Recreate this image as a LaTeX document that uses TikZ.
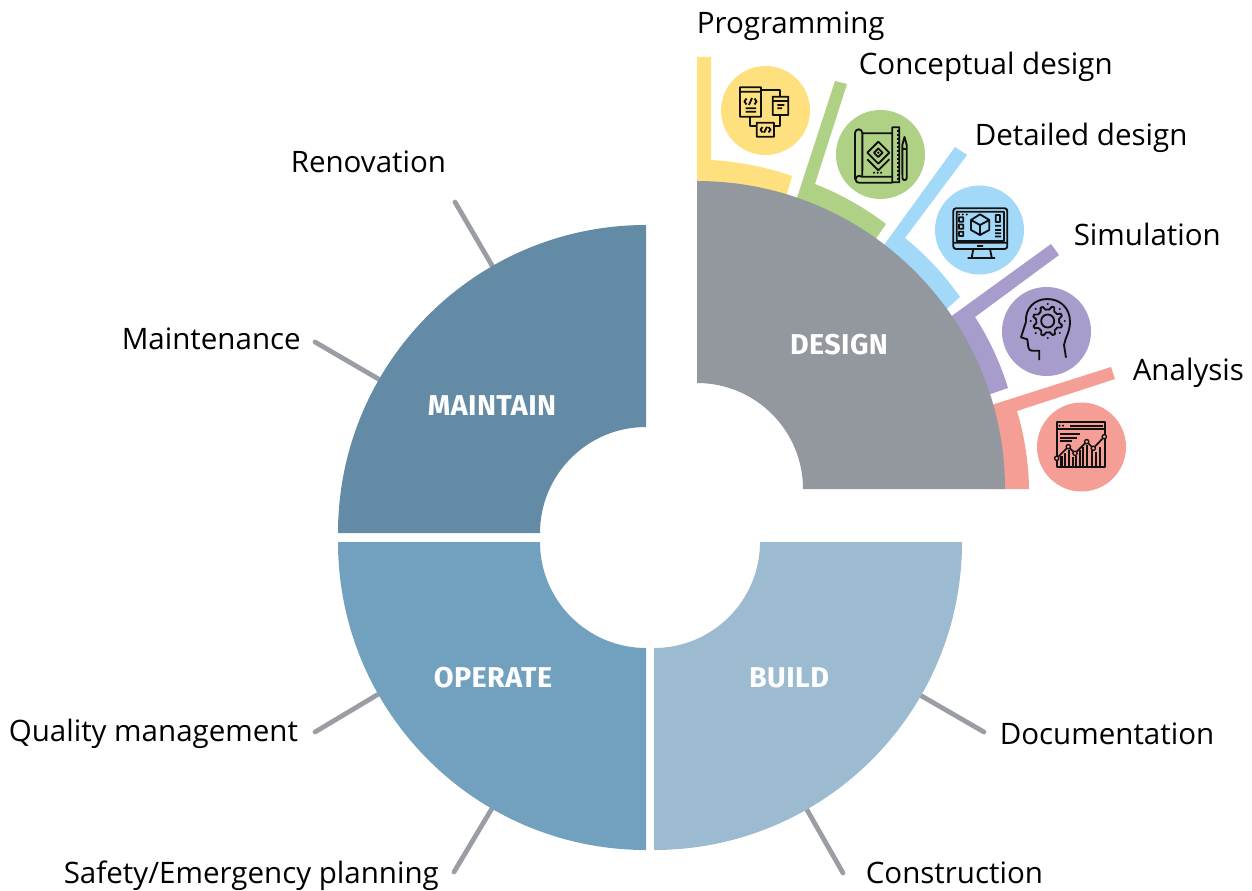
\documentclass[tikz,border=0pt]{standalone}
\usepackage{fontspec}
\setmainfont{Open Sans}
\newfontfamily\headfont[FakeStretch=1.0,LetterSpace=1.5]{Fira Sans}
\definecolor{cYellow}{HTML}{FFE07F}
\definecolor{cGreen}{HTML}{AED185}
\definecolor{cBlue}{HTML}{A2D8F8}
\definecolor{cPurple}{HTML}{A79CCC}
\definecolor{cSalmon}{HTML}{F49E96}
\definecolor{cGrey}{HTML}{93989F}
\definecolor{cMaintain}{HTML}{648BA5}
\definecolor{cOperate}{HTML}{71A1BF}
\definecolor{cBuild}{HTML}{9CBBD1}
\definecolor{cTick}{HTML}{9A9DA3}
\definecolor{cInk}{HTML}{111111}
\newcommand{\quadring}[3]{%
  \begin{scope}[shift={(#1)}]
    \fill[#3] (#2:231pt) arc[start angle=#2,delta angle=90,radius=231pt]
      -- ({#2+90}:79.5pt) arc[start angle={#2+90},delta angle=-90,radius=79.5pt] -- cycle;
  \end{scope}}
\tikzset{
  lab/.style={anchor=base west,inner sep=0pt,font=\fontsize{22.15pt}{24pt}\selectfont,text=black},
  head/.style={anchor=center,inner sep=0pt,text=white,font=\headfont\bfseries\fontsize{21.5pt}{24pt}\selectfont},
  tick/.style={draw=cTick,line width=3.6pt,line cap=round},
  ic/.style={draw=cInk,line width=1.4pt,line join=round,fill=none},
  ith/.style={draw=cInk,line width=1.7pt},
  disc/.style={circle,minimum size=66.75pt,inner sep=0pt,draw=none}
}
\begin{document}
\begin{tikzpicture}[x=0.75pt,y=-0.75pt]
\useasboundingbox (0,0) rectangle (1252,891);
% tick ends
\coordinate (tRen) at (455,202); \coordinate (tRenI) at (497,274);
\coordinate (tMai) at (315,342); \coordinate (tMaiI) at (387,384);
\coordinate (tQua) at (315,732); \coordinate (tQuaI) at (387,689);
\coordinate (tSaf) at (454,872); \coordinate (tSafI) at (497,800);
\coordinate (tDoc) at (984,732); \coordinate (tDocI) at (913,691);
\coordinate (tCon) at (843,873); \coordinate (tConI) at (802,801);
\foreach \a/\b in {tRen/tRenI,tMai/tMaiI,tQua/tQuaI,tSaf/tSafI,tDoc/tDocI,tCon/tConI}
  \draw[tick] (\a) -- (\b);
% rings
\quadring{646,533}{90}{cMaintain}
\quadring{646,542}{180}{cOperate}
\quadring{654,542}{270}{cBuild}
% coloured bands
\fill[cYellow] (697,57) -- (711,57) -- (711,160) to[bend left=8,looseness=0.85] (792,176) -- (783,208) -- (697,208) -- cycle;
\fill[cGreen] (835,81) -- (847,84) -- (815,184) to[bend left=8,looseness=0.85] (886,224) -- (870,247) -- (791,216) -- cycle;
\fill[cBlue] (955,147) -- (967,155) -- (905,238) to[bend left=8,looseness=0.85] (960,297) -- (940,315) -- (876,256) -- cycle;
\fill[cPurple] (1051,244) -- (1059,255) -- (975,317) to[bend left=8,looseness=0.85] (1008,388) -- (982,397) -- (942,323) -- cycle;
\fill[cSalmon] (1111,367) -- (1115,379) -- (1017,411) to[bend left=8,looseness=0.85] (1029,489) -- (990,489) -- (982,408) -- cycle;
\quadring{697,489}{0}{cGrey}
% discs
\node[disc,fill=cYellow] (dProg) at (765.5,110.5) {};
\node[disc,fill=cGreen] (dConc) at (880.5,154.5) {};
\node[disc,fill=cBlue] (dDet) at (979.5,230) {};
\node[disc,fill=cPurple] (dSim) at (1046.5,331.5) {};
\node[disc,fill=cSalmon] (dAna) at (1081.5,447) {};
% icon 1: programming
\draw[ic] (740,87.3) rectangle (761,116.7) (740,91.7) -- (761,91.7)
  (761,90) -- (780,90) -- (780,96.7)
  (772.7,96.7) rectangle (788.3,115) (772.7,101) -- (788.3,101)
  (777.3,105) -- (784.3,105) (777.3,108.3) -- (782,108.3)
  (750,116.7) -- (750,126) -- (756.7,126)
  (756.7,122.7) rectangle (774,136.7)
  (774,126) -- (780,126) -- (780,115)
  (745.5,108.3) -- (756,108.3) (745.5,111.7) -- (756,111.7)
  (746.5,98.5) -- (744.5,101.5) -- (746.5,104.5) (754.5,98.5) -- (756.5,101.5) -- (754.5,104.5) (752,98) -- (749,105)
  (762.5,127) -- (760.5,129.7) -- (762.5,132.4) (768.5,127) -- (770.5,129.7) -- (768.5,132.4) (767,126.7) -- (764,132.7);
% icon 2: concept
\draw[ic] (855,179.5) -- (855,133) arc[start angle=180,end angle=0,radius=2.75pt] -- (862.3,175.5)
  (862.3,133.3) -- (892.3,133.3)
  (859,182.8) -- (892.3,182.8) (862.3,176.7) -- (892.3,176.7)
  (859,182.8) arc[start angle=270,end angle=90,radius=2.6pt] -- (862.3,176.7)
  (892.3,127.3) rectangle (899.3,182.3)
  (902.3,145) -- (904.5,137) -- (906.7,145) -- (906.7,178) arc[start angle=0,end angle=-180,radius=1.6pt] -- cycle
  (902.3,149) -- (906.7,149)
  (878.3,141.7) -- (889.3,152.7) -- (878.3,163.7) -- (867.3,152.7) -- cycle
  (867.3,159.3) -- (878.3,170.3) -- (889.3,159.3)
  (878.3,148.4) -- (882.6,152.7) -- (878.3,157) -- (874,152.7) -- cycle;
\fill[cInk] (878.3,152.7) circle[radius=1pt];
\foreach \x in {874,877.7,881} \fill[cInk] (\x,172.7) circle[radius=0.9pt];
\foreach \y in {131,135,...,179} \draw[ic,line width=0.8pt] (896.5,\y) -- (899,\y);
% icon 3: detailed design
\draw[ic,rounded corners=2pt] (953.3,208.3) rectangle (1007.3,249);
\draw[ic] (953.3,242.7) -- (1007.3,242.7) (956.7,211.7) rectangle (1004,241)
  (977,246) -- (983,246)
  (973.3,249) -- (971.7,257.5) (990,249) -- (991.7,257.5) (967.7,258) -- (995,258)
  (980,214.3) -- (989.3,220) -- (989.3,230) -- (980,235) -- (971,230) -- (971,220) -- cycle
  (971,220) -- (980,225) -- (989.3,220) (980,225) -- (980,235)
  (959,217.3) rectangle (963.3,221.7) (959,224.5) rectangle (963.3,228.8) (959,231.7) rectangle (963.3,236)
  (995.7,215) rectangle (1000,222)
  (995,225.7) -- (1001,225.7) (995,230) -- (1001,230) (995,233.3) -- (1001,233.3) (995,236.5) -- (1001,236.5);
\foreach \x in {959,962.7,966.7} \fill[cInk] (\x,214.5) circle[radius=0.9pt];
% icon 4: simulation
\draw[ic] (1066,357.7) -- (1064,345) .. controls (1065,338) and (1070,332) .. (1070,321.7)
  .. controls (1070,308) and (1060,299) .. (1047.3,299)
  .. controls (1034,299) and (1025,309) .. (1026,321.7)
  -- (1021,337.3) -- (1027.3,339.3) -- (1028.3,347) .. controls (1028.5,349.5) and (1030,350.7) .. (1032,350.7)
  -- (1039.3,350.7) -- (1039.3,360);
\draw[ic] (1047.7,321) circle[radius=4.9pt];
\draw[ic] plot[samples at={0,...,40},variable=\t] ({1047.7+(mod(\t,5)<2?15:11.5)*cos(9*\t-6+22.5)},{321+(mod(\t,5)<2?15:11.5)*sin(9*\t-6+22.5)}) -- cycle;
\foreach \a in {0,45,...,315} \fill[cInk] ({1047.7+17*cos(\a)},{321+17*sin(\a)}) circle[radius=0.9pt];
% icon 5: analysis
\draw[ic] (1056.7,421.7) rectangle (1105,466.7);
\draw[ith] (1056.7,429.3) -- (1105,429.3) (1070,425.7) -- (1103,425.7)
  (1060,434.3) -- (1080,434.3) (1060,437.7) -- (1077,437.7) (1060,441) -- (1072,441);
\foreach \x in {1059.5,1063} \fill[cInk] (\x,425.7) circle[radius=0.9pt];
\foreach \x/\t in {1061.5/456,1065/453,1069/450,1073.3/457,1076/456,1080/450,1083.3/447,1087.3/445,1091.7/450,1095.7/451.7,1100/447}
  \draw[ith] (\x,\t) -- (\x,466.7);
\draw[draw=cInk,line width=1.3pt] (1056.7,458.3) -- (1068.3,446.7) -- (1075,453.3) -- (1086.7,441.7) -- (1093.3,448.3) -- (1104.3,436.7);
\foreach \p in {{1056.7,458.3},{1068.3,446.7},{1075,453.3},{1086.7,441.7},{1093.3,448.3},{1104.3,436.7}}
  \draw[draw=cInk,line width=1pt,fill=cSalmon] (\p) circle[radius=1.6pt];
% sector titles
\node[head] (hDesign) at (839,344.5) {DESIGN};
\node[head] (hMaintain) at (492,405.5) {MAINTAIN};
\node[head] (hOperate) at (493,677.5) {OPERATE};
\node[head] (hBuild) at (789,677.5) {BUILD};
% labels
\node[lab] (lProg) at (696.5,33.5) {Programming};
\node[lab] (lConc) at (858.5,74.5) {Conceptual design};
\node[lab] (lDet) at (974.5,145.5) {Detailed design};
\node[lab] (lSim) at (1073.5,245.5) {Simulation};
\node[lab] (lAna) at (1132.5,380.5) {Analysis};
\node[lab] (lDoc) at (999.5,744.5) {Documentation};
\node[lab] (lCon) at (865.5,883) {Construction};
\node[lab] (lSaf) at (63.5,883) {Safety/Emergency planning};
\node[lab] (lQua) at (8.5,741) {Quality management};
\node[lab] (lMai) at (121.5,349) {Maintenance};
\node[lab] (lRen) at (290.5,172.5) {Renovation};
\end{tikzpicture}
\end{document}
